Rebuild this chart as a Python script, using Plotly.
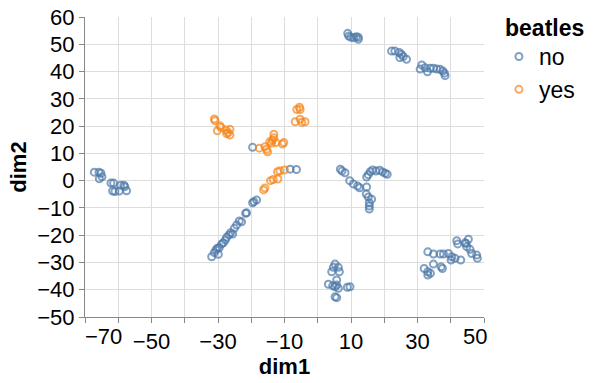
import plotly.graph_objects as go

# ---- data ----
dim1_no = [
    # left cluster
    -67.2, -65.8, -65.2, -64.9, -65.7, -62.2, -61.4, -59.3, -58.3, -58.0, -61.7, -61.0, -59.7, -57.5,
    # diagonal
    -31.9, -31.1, -30.6, -30.2, -29.6, -28.9, -28.4, -27.4, -26.7, -26.2, -25.6, -25.1, -24.4, -23.6,
    -22.9, -21.7, -21.4, -19.6, -19.2, -18.4, -29.9, -27.8,
    # single points near orange
    -19.6, -8.3, -6.4,
    # top
    9.0, 9.3, 9.9, 10.8, 11.6, 12.2, 12.2,
    # 22-27
    22.2, 23.2, 24.5, 25.2, 24.7, 25.7, 26.7,
    # 31-38
    31.3, 30.8, 32.3, 33.0, 33.8, 34.8, 35.8, 36.8, 37.6, 38.3, 38.1,
    # middle
    6.8, 7.3, 8.2, 9.6, 10.7, 12.0, 12.6, 14.7, 14.6, 15.2, 16.2, 15.5, 15.5, 15.5,
    14.7, 15.2, 15.8, 16.5, 17.5, 18.6, 19.5, 20.3, 20.9,
    # bottom cluster
    5.2, 4.7, 6.2, 4.2, 6.5, 5.7, 3.2, 4.5, 5.7, 6.2, 5.2, 8.9, 9.7, 5.2, 5.7,
    # bottom right
    33.1, 34.8, 36.8, 37.8, 39.3, 40.3, 40.1, 41.3, 43.0, 41.8, 42.1, 44.3, 45.3, 44.8,
    45.8, 46.3, 47.8, 48.0, 32.0, 33.1, 33.1, 33.9, 34.8, 37.1, 37.5, 44.6,
]
dim2_no = [
    3.1, 3.1, 2.7, 1.4, 0.7, -0.9, -0.9, -1.7, -1.7, -2.2, -3.8, -4.0, -3.8, -3.7,
    -27.9, -26.4, -25.4, -24.8, -24.5, -23.2, -22.8, -20.8, -19.9, -19.1, -19.6, -17.5, -16.3, -14.8,
    -15.1, -12.0, -11.8, -8.1, -7.7, -7.1, -27.0, -21.8,
    12.2, 4.2, 4.1,
    54.0, 53.0, 52.6, 52.4, 52.8, 52.6, 51.8,
    47.5, 47.5, 47.0, 46.3, 45.1, 45.5, 44.5,
    42.4, 40.9, 41.4, 39.9, 41.2, 41.2, 40.9, 40.8, 40.2, 38.5, 39.4,
    4.2, 3.5, 2.9, 0.0, -1.2, -2.0, -2.6, -2.3, -4.9, -6.0, -6.8, -8.1, -9.3, -10.4,
    1.3, 2.2, 3.3, 3.9, 3.5, 3.8, 3.2, 2.7, 2.3,
    -30.6, -31.8, -31.8, -33.4, -33.4, -36.4, -38.0, -38.5, -38.3, -39.5, -38.9, -39.1, -38.9, -42.6, -42.9,
    -26.1, -26.9, -26.9, -26.9, -26.7, -27.9, -29.1, -28.5, -29.1, -22.0, -23.2, -22.8, -21.5, -24.2,
    -25.2, -26.7, -27.3, -28.5, -32.2, -33.4, -34.6, -34.0, -30.6, -31.6, -32.2, -23.0,
]
dim1_yes = [
    -31.1, -30.9, -29.4, -29.1, -30.2, -27.6, -26.4, -27.4, -26.4, -26.9,
    -17.6, -15.9, -15.4, -15.1, -13.9, -13.6, -13.2, -13.2, -12.6, -10.2, -10.6, -14.4,
    -6.3, -5.5, -5.3, -6.8, -5.3, -4.8, -3.8,
    -16.3, -15.9, -14.2, -13.4, -12.0, -12.1, -11.4, -10.0,
]
dim2_yes = [
    22.6, 22.0, 20.1, 19.5, 18.3, 18.6, 18.8, 17.3, 16.7, 17.6,
    11.9, 12.4, 11.5, 10.6, 13.7, 14.9, 17.0, 15.7, 14.0, 14.0, 13.4, 14.3,
    26.1, 26.9, 26.1, 21.6, 22.5, 21.4, 21.6,
    -3.4, -2.7, 0.0, 0.4, 0.6, 3.3, 3.6, 3.9,
]
groups = ["no", "yes"]
colors = {"no": "#4c78a8", "yes": "#f58518"}
x_ticks = list(range(-70, 51, 10))
x_labeled = [-50, -30, -10, 10, 30]
y_ticks = list(range(-50, 61, 10))


def fmt(v):
    return ("\u2212" + str(-v)) if v < 0 else str(v)


FONT = "Liberation Sans, Arial, Helvetica, sans-serif"

fig = go.Figure()
for g, xs, ys in [("no", dim1_no, dim2_no), ("yes", dim1_yes, dim2_yes)]:
    fig.add_trace(go.Scatter(
        x=xs, y=ys, mode="markers", name=g,
        marker=dict(symbol="circle-open", size=7, color=colors[g],
                    opacity=0.7, line=dict(width=2, color=colors[g])),
    ))

fig.update_layout(
    template="none",
    width=594, height=383,
    margin=dict(l=85, r=110, t=17, b=66),
    paper_bgcolor="white", plot_bgcolor="white",
    font=dict(family=FONT, color="black", size=22),
    showlegend=True,
    legend=dict(
        font=dict(size=23),
        x=1.0575, xanchor="left", y=0.94, yanchor="top",
        itemwidth=30, tracegroupgap=0,
        indentation=-8,
    ),
)
common = dict(
    showgrid=True, gridcolor="#dddddd", gridwidth=1,
    showline=True, linecolor="#888888", linewidth=1,
    ticks="outside", ticklen=5, tickcolor="#888888", tickwidth=1,
    tickfont=dict(size=22), zeroline=False, automargin=False, mirror=False,
)
fig.update_xaxes(
    range=[-70, 50], tickmode="array", tickvals=x_ticks,
    ticktext=[fmt(v) if v in x_labeled else "" for v in x_ticks],
    title=dict(text="<b>dim1</b>", font=dict(size=22), standoff=2),
    **common,
)
fig.update_yaxes(
    range=[-50, 60], tickmode="array", tickvals=y_ticks,
    ticktext=[fmt(v) for v in y_ticks],
    title=dict(text="<b>dim2</b>", font=dict(size=22), standoff=4),
    **common,
)
# legend title
fig.add_annotation(x=1.0476, y=0.965, xref="paper", yref="paper", text="<b>beatles</b>",
                   xanchor="left", yanchor="middle", showarrow=False,
                   font=dict(size=23, family=FONT))
# flush end labels on x axis
fig.add_annotation(x=-70, y=0, xref="x", yref="paper", text=fmt(-70),
                   xanchor="left", yanchor="top", yshift=-5, xshift=-2, showarrow=False,
                   font=dict(size=22, family=FONT))
fig.add_annotation(x=50, y=0, xref="x", yref="paper", text=fmt(50),
                   xanchor="right", yanchor="top", yshift=-5, xshift=5, showarrow=False,
                   font=dict(size=22, family=FONT))

fig.write_html("out.html", config={"displayModeBar": False},
               post_script="document.body.style.margin='0';")
